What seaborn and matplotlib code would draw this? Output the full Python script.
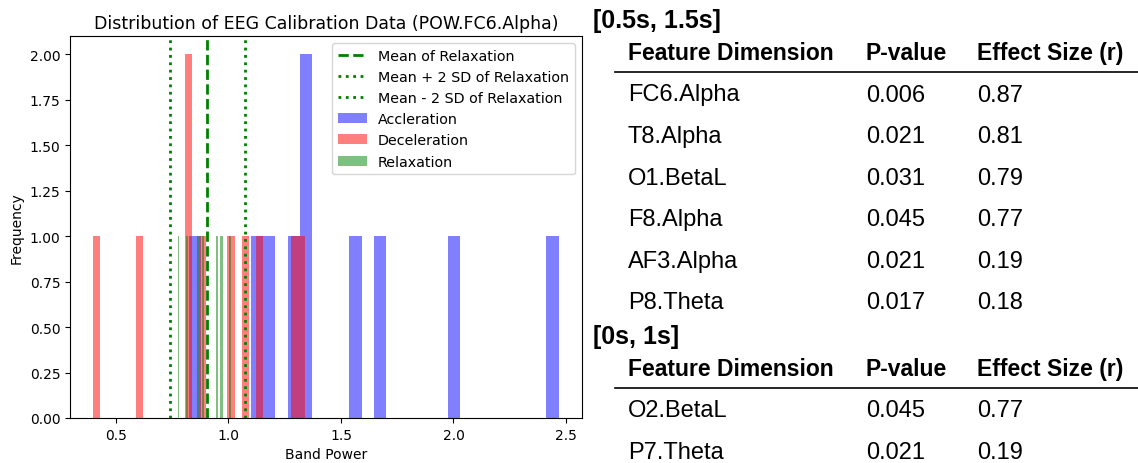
import numpy as np
import pandas as pd
import matplotlib
matplotlib.use("Agg")
import matplotlib.pyplot as plt
from matplotlib.lines import Line2D
import seaborn as sns

# POW.FC6.Alpha band power samples per condition
accel = [0.825, 1.125, 1.180, 1.290, 1.335, 1.360, 1.565, 1.675, 2.000, 2.468]
decel = [0.399, 0.603, 0.815, 0.830, 0.885, 1.010, 1.074, 1.137, 1.294, 1.341]
relax = [0.774, 0.817, 0.867, 0.891, 0.951, 0.967, 0.973, 1.009]

# significance tables
win_a = "[0.5s, 1.5s]"
feat_a = ["FC6.Alpha", "T8.Alpha", "O1.BetaL", "F8.Alpha", "AF3.Alpha", "P8.Theta"]
pval_a = ["0.006", "0.021", "0.031", "0.045", "0.021", "0.017"]
eff_a = ["0.87", "0.81", "0.79", "0.77", "0.19", "0.18"]
win_b = "[0s, 1s]"
feat_b = ["O2.BetaL", "P7.Theta"]
pval_b = ["0.045", "0.021"]
eff_b = ["0.77", "0.19"]
headers = ["Feature Dimension", "P-value", "Effect Size (r)"]

W, H = 1138, 464
fig = plt.figure(figsize=(W / 100, H / 100), dpi=100)

# histogram panel
ax = fig.add_axes([70 / W, 1 - 419 / H, 512 / W, 382 / H])
groups = [(accel, "blue", "Accleration"),
          (decel, "red", "Deceleration"),
          (relax, "green", "Relaxation")]
for vals, col, name in groups:
    sns.histplot(x=np.array(vals), bins=30, color=col, alpha=0.5,
                 linewidth=0, edgecolor="none", label=name, ax=ax)

relax_s = pd.Series(relax)
mu = relax_s.mean()
sd = relax_s.std()
ax.axvline(mu, color="green", linestyle="--", linewidth=2, label="Mean of Relaxation")
ax.axvline(mu + 2 * sd, color="green", linestyle=":", linewidth=2,
           label="Mean + 2 SD of Relaxation")
ax.axvline(mu - 2 * sd, color="green", linestyle=":", linewidth=2,
           label="Mean - 2 SD of Relaxation")

ax.set_title("Distribution of EEG Calibration Data (POW.FC6.Alpha)", fontsize=12.5)
ax.set_xlabel("Band Power")
ax.set_ylabel("Frequency")
ax.legend(loc="upper right", fontsize=10.3)

# table panel drawn in pixel coords
tx = fig.add_axes([0, 0, 1, 1], facecolor="none")
tx.set_xlim(0, W)
tx.set_ylim(H, 0)
tx.axis("off")
fam = ["Liberation Sans", "DejaVu Sans"]
cols_x = [628, 866, 977]


def draw_block(y0, win, feats, pvals, effs):
    tx.text(593, y0 + 2, win, fontsize=18, fontweight="bold", family=fam, va="center")
    for cx, h in zip(cols_x, headers):
        tx.text(cx, y0 + 34.5, h, fontsize=16.5, fontweight="bold", family=fam, va="center")
    tx.add_line(Line2D([615, W], [y0 + 54, y0 + 54], color="black", linewidth=1.2))
    for i, (f, p, e) in enumerate(zip(feats, pvals, effs)):
        yy = y0 + 76.5 + i * 41.6
        for cx, s in zip(cols_x, (f, p, e)):
            tx.text(cx, yy, s, fontsize=17, family=fam, va="center")


draw_block(19, win_a, feat_a, pval_a, eff_a)
draw_block(335, win_b, feat_b, pval_b, eff_b)

fig.savefig("out.png", dpi=100)
